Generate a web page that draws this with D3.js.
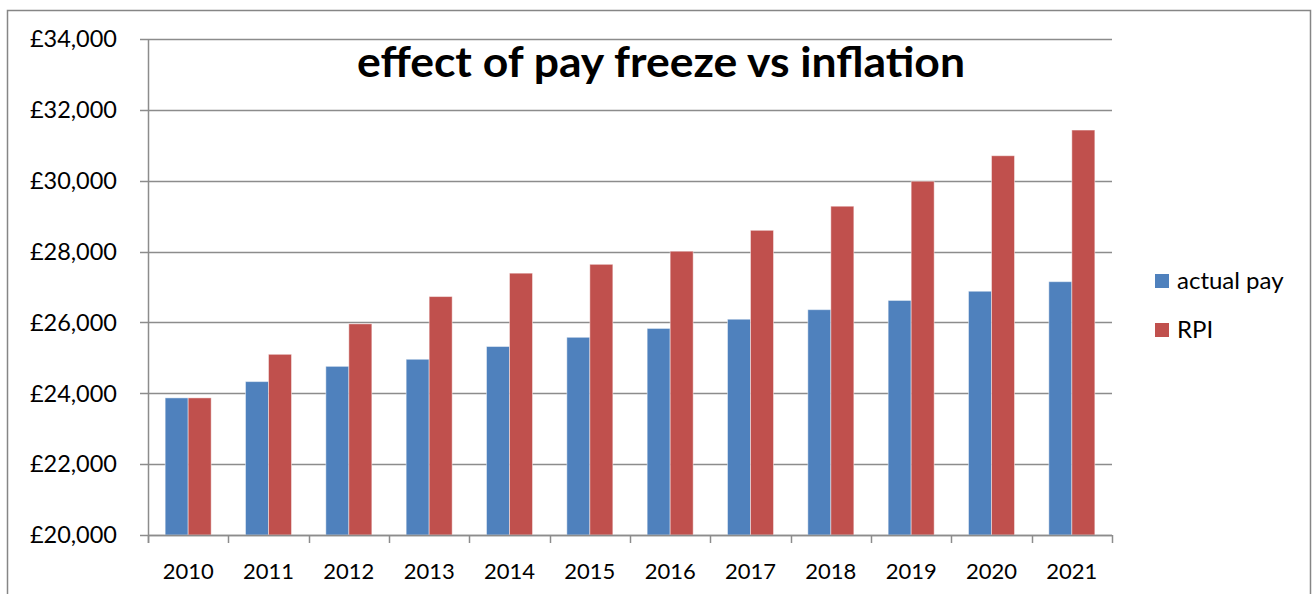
<!DOCTYPE html>
<html>
<head>
<meta charset="utf-8">
<script src="https://cdn.jsdelivr.net/npm/d3@7"></script>
<style>
  body { margin: 0; background: #fff; }
  text { font-family: Lato, "Open Sans", sans-serif; fill: #000; }
</style>
</head>
<body>
<div id="chart"></div>
<script>
// data
var years = ["2010", "2011", "2012", "2013", "2014", "2015", "2016", "2017", "2018", "2019", "2020", "2021"];
var actualPay = [23870, 24330, 24760, 24960, 25320, 25580, 25830, 26090, 26360, 26620, 26880, 27150];
var rpi = [23870, 25100, 25960, 26730, 27390, 27640, 28010, 28600, 29280, 29985, 30705, 31430];
var seriesNames = ["actual pay", "RPI"];
var seriesColors = ["#4F81BD", "#C0504D"];
var yTicks = [20000, 22000, 24000, 26000, 28000, 30000, 32000, 34000];

var W = 1315, H = 594;
var plotL = 148, plotR = 1112, plotT = 39, plotB = 535;

var svg = d3.select("#chart").append("svg")
    .attr("width", W)
    .attr("height", H);

// chart area border
svg.append("rect")
    .attr("x", 7.5).attr("y", 10.5)
    .attr("width", 1303).attr("height", 600)
    .attr("fill", "none")
    .attr("stroke", "#868686")
    .attr("stroke-width", 1.5);

var y = d3.scaleLinear().domain([20000, 34000]).range([plotB, plotT]);
var x = d3.scaleBand().domain(years).range([plotL, plotR]).padding(0);
var bw = x.bandwidth();
var xs = d3.scaleBand().domain(seriesNames).range([bw * 0.2137, bw * 0.7863]).padding(0);

// gridlines + y labels
var fmt = function(v) { return "£" + d3.format(",")(v); };
svg.append("g").selectAll("line")
    .data(yTicks)
    .enter().append("line")
    .attr("x1", plotL - 8).attr("x2", plotR)
    .attr("y1", function(d) { return Math.round(y(d)) + 0.5; })
    .attr("y2", function(d) { return Math.round(y(d)) + 0.5; })
    .attr("stroke", "#8c8c8c")
    .attr("stroke-width", 1.5);

svg.append("g").selectAll("text")
    .data(yTicks)
    .enter().append("text")
    .attr("x", 117)
    .attr("y", function(d) { return y(d); })
    .attr("dy", "0.35em")
    .attr("text-anchor", "end")
    .style("font-size", "23.5px")
    .text(fmt);

// bars
var groups = svg.append("g").selectAll("g")
    .data(years)
    .enter().append("g")
    .attr("transform", function(d) { return "translate(" + x(d) + ",0)"; });

groups.selectAll("rect")
    .data(function(d, i) {
        return [
            { s: seriesNames[0], v: actualPay[i], c: seriesColors[0] },
            { s: seriesNames[1], v: rpi[i], c: seriesColors[1] }
        ];
    })
    .enter().append("rect")
    .attr("x", function(d) { return xs(d.s); })
    .attr("width", xs.bandwidth())
    .attr("y", function(d) { return y(d.v); })
    .attr("height", function(d) { return plotB - y(d.v); })
    .attr("fill", function(d) { return d.c; })
    .attr("stroke", "rgba(255,255,255,0.45)")
    .attr("stroke-width", 1);

// axes lines
svg.append("line")
    .attr("x1", plotL + 0.5).attr("x2", plotL + 0.5)
    .attr("y1", plotT).attr("y2", plotB + 8)
    .attr("stroke", "#8c8c8c").attr("stroke-width", 1.5);
svg.append("line")
    .attr("x1", plotL).attr("x2", plotR)
    .attr("y1", plotB + 0.5).attr("y2", plotB + 0.5)
    .attr("stroke", "#8c8c8c").attr("stroke-width", 1.5);

var bounds = years.map(function(d) { return x(d); }).concat([plotR]);
svg.append("g").selectAll("line")
    .data(bounds)
    .enter().append("line")
    .attr("x1", function(d) { return Math.round(d) + 0.5; })
    .attr("x2", function(d) { return Math.round(d) + 0.5; })
    .attr("y1", plotB).attr("y2", plotB + 8)
    .attr("stroke", "#8c8c8c").attr("stroke-width", 1.5);

svg.append("g").selectAll("text")
    .data(years)
    .enter().append("text")
    .attr("x", function(d) { return x(d) + bw / 2; })
    .attr("y", 579)
    .attr("text-anchor", "middle")
    .style("font-size", "22px")
    .text(function(d) { return d; });

// title
svg.append("text")
    .attr("x", 661)
    .attr("y", 77)
    .attr("text-anchor", "middle")
    .attr("textLength", 608)
    .attr("lengthAdjust", "spacingAndGlyphs")
    .style("font-size", "42px")
    .style("font-weight", "bold")
    .text("effect of pay freeze vs inflation");

// legend
var legend = svg.append("g").selectAll("g")
    .data(seriesNames)
    .enter().append("g")
    .attr("transform", function(d, i) { return "translate(1155," + (274 + i * 49) + ")"; });

legend.append("rect")
    .attr("width", 14).attr("height", 14)
    .attr("fill", function(d, i) { return seriesColors[i]; });

legend.append("text")
    .attr("x", 22)
    .attr("y", 7)
    .attr("dy", "0.35em")
    .style("font-size", "24px")
    .text(function(d) { return d; });
</script>
</body>
</html>
